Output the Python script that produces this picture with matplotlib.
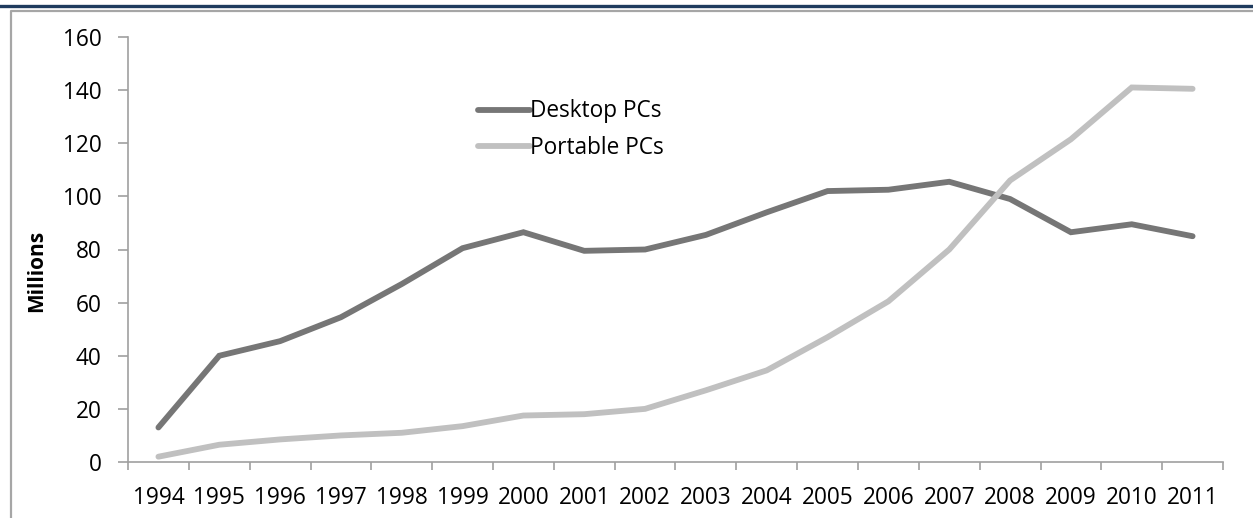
import numpy as np
import matplotlib.pyplot as plt
from matplotlib.lines import Line2D

# data
years = [str(y) for y in range(1994, 2012)]
desktop = [13, 40, 45.5, 54.5, 67, 80.5, 86.5, 79.5, 80, 85.5, 94, 102, 102.5, 105.5, 99, 86.5, 89.5, 85]
portable = [2, 6.5, 8.5, 10, 11, 13.5, 17.5, 18, 20, 27, 34.5, 47, 60.5, 80, 106, 121.5, 141, 140.5]
yticks = np.arange(0, 161, 20)

plt.rcParams['font.family'] = ['Open Sans', 'DejaVu Sans']

W, H = 1253, 518
fig = plt.figure(figsize=(W / 100, H / 100), dpi=100)

# outer decoration: navy rule on top, gray frame
fig.add_artist(Line2D([0, 1], [1 - 5.5 / H, 1 - 5.5 / H], color='#1f3b5e', lw=2.4,
                      transform=fig.transFigure))
fig.add_artist(Line2D([11 / W, 11 / W, 1.01], [-0.01, 1 - 11 / H, 1 - 11 / H], color='#a6a6a6',
                      lw=1.6, transform=fig.transFigure))

ax = fig.add_axes([128 / W, (H - 462) / H, (1223 - 128) / W, (462 - 37) / H])
x = np.arange(len(years))
ax.plot(x, desktop, color='#767676', lw=4.2, solid_capstyle='round', solid_joinstyle='miter',
        label='Desktop PCs')
ax.plot(x, portable, color='#c0c0c0', lw=4.2, solid_capstyle='round', solid_joinstyle='miter',
        label='Portable PCs')

ax.set_xlim(-0.5, len(years) - 0.5)
ax.set_ylim(0, 160)
ax.set_yticks(yticks)
ax.set_xticks(x)
ax.set_xticklabels(years)
ax.set_xticks(np.arange(-0.5, len(years)), minor=True)
fs = 16.3
ax.tick_params(axis='x', which='major', length=0, pad=17, labelsize=fs)
ax.tick_params(axis='x', which='minor', length=6, width=1.2, color='#a0a0a0')
ax.tick_params(axis='y', length=7, width=1.2, color='#a0a0a0', pad=12, labelsize=fs)

for s in ['top', 'right']:
    ax.spines[s].set_visible(False)
for s in ['left', 'bottom']:
    ax.spines[s].set_color('#a0a0a0')
    ax.spines[s].set_linewidth(1.2)

ax.set_ylabel('Millions', fontweight='bold', fontsize=15)
ax.yaxis.set_label_coords(-0.074, 0.45)

ax.legend(loc='center left', bbox_to_anchor=(0.311, 0.782), frameon=False, fontsize=fs,
          handlelength=2.3, handletextpad=0.0, labelspacing=0.55, borderaxespad=0)

fig.savefig('out.png', dpi=100)
